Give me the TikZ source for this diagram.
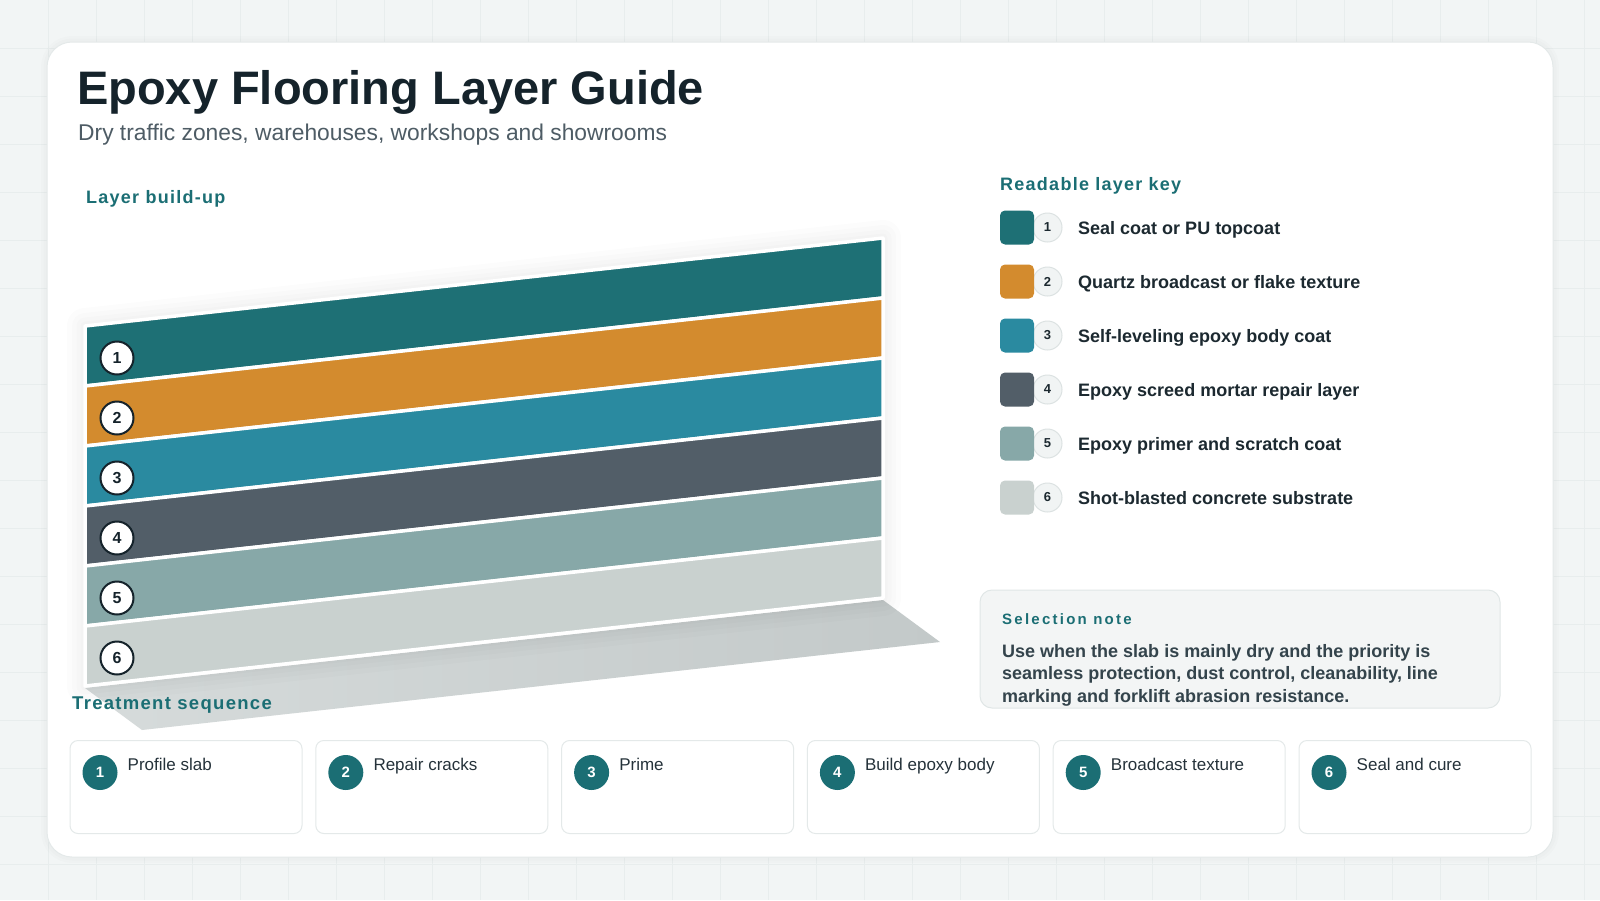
\documentclass[tikz,border=0pt]{standalone}
\usepackage{fontspec}
\setmainfont{Liberation Sans}
\newfontfamily\spacedfont[LetterSpace=7]{Liberation Sans}
\newfontfamily\notefont[LetterSpace=15]{Liberation Sans}

\definecolor{bgcol}{HTML}{F2F5F5}
\definecolor{gridcol}{HTML}{E8EDED}
\definecolor{cardline}{HTML}{E4E9E9}
\definecolor{inkdark}{HTML}{15232B}
\definecolor{subink}{HTML}{4E5C65}
\definecolor{headteal}{HTML}{1B6E74}
\definecolor{layerA}{HTML}{1E7075}
\definecolor{layerB}{HTML}{D38B2E}
\definecolor{layerC}{HTML}{2A8AA0}
\definecolor{layerD}{HTML}{525E68}
\definecolor{layerE}{HTML}{87A8A8}
\definecolor{layerF}{HTML}{C9D1CF}
\definecolor{floordark}{HTML}{C3C9C9}
\definecolor{floorlight}{HTML}{D6DBDB}
\definecolor{notefill}{HTML}{F3F5F5}
\definecolor{noteline}{HTML}{E0E6E6}
\definecolor{noteink}{HTML}{34444C}
\definecolor{keyfill}{HTML}{F1F4F4}
\definecolor{keyline}{HTML}{DCE2E2}
\definecolor{labelink}{HTML}{1C2930}
\definecolor{stepink}{HTML}{25323A}

\begin{document}
\begin{tikzpicture}[x=1pt, y=-1pt, every node/.style={inner sep=0pt},
  titletext/.style={anchor=base west, text=inkdark, font=\bfseries\fontsize{47}{56}\selectfont},
  subtext/.style={anchor=base west, text=subink, font=\fontsize{22.8}{27}\selectfont},
  heading/.style={anchor=base west, text=headteal, font=\spacedfont\bfseries\fontsize{18}{22}\selectfont},
  layernum/.style={circle, draw=inkdark, line width=2pt, fill=white, minimum size=33pt, text=inkdark, font=\bfseries\fontsize{16}{19}\selectfont},
  keynum/.style={circle, draw=keyline, line width=1pt, fill=keyfill, minimum size=29pt, text=labelink, font=\bfseries\fontsize{13}{16}\selectfont},
  swatch/.style={rectangle, rounded corners=5pt, minimum size=34pt},
  keylabel/.style={anchor=base west, text=labelink, font=\bfseries\fontsize{18}{22}\selectfont},
  stepcard/.style={rectangle, rounded corners=8pt, draw=cardline, line width=1pt, fill=white, minimum width=232pt, minimum height=93pt, anchor=north west},
  stepnum/.style={circle, fill=headteal, minimum size=35pt, text=white, font=\bfseries\fontsize{15}{18}\selectfont},
  steptext/.style={anchor=base west, text=stepink, font=\fontsize{17}{20}\selectfont}]

\useasboundingbox (0,0) rectangle (1600,900);

% page and grid
\fill[bgcol] (0,0) rectangle (1600,900);
\foreach \gx in {48,96,...,1584}
  \draw[gridcol, line width=1pt] (\gx,0) -- (\gx,900);
\foreach \gy in {48,96,...,864}
  \draw[gridcol, line width=1pt] (0,\gy) -- (1600,\gy);

% main card
\foreach \w in {12,7}
  \draw[black, opacity=0.01, line width=\w pt, rounded corners=25pt] (47,42) rectangle (1553,857);
\draw[fill=white, draw=cardline, line width=1pt, rounded corners=25pt] (47,42) rectangle (1553,857);

\node[titletext] (title) at (77,104) {Epoxy Flooring Layer Guide};
\node[subtext] (subtitle) at (78,140) {Dry traffic zones, warehouses, workshops and showrooms};

% layer build-up
\node[heading] (buildup) at (86,203) {Layer build-up};

\shade[left color=floorlight, right color=floordark] (85,688) -- (883,600) -- (940,642) -- (142,730) -- cycle;
\foreach \w in {36,26,17,9}
  \draw[black, opacity=0.01, line width=\w pt, line join=round] (85,326) -- (883,238) -- (883,598) -- (85,686) -- cycle;

\foreach \i/\col in {0/layerA,1/layerB,2/layerC,3/layerD,4/layerE,5/layerF}
  \filldraw[fill=\col, draw=white, line width=3.5pt, line join=round]
    (85,{326+60*\i}) -- (883,{238+60*\i}) -- (883,{298+60*\i}) -- (85,{386+60*\i}) -- cycle;

\foreach \n in {1,...,6}
  \node[layernum] (w\n) at (117,{358+60*(\n-1)}) {\n};

% layer key
\node[heading] (keyhead) at (1000,190) {Readable layer key};
\foreach \n/\col/\txt in {1/layerA/Seal coat or PU topcoat,
                          2/layerB/Quartz broadcast or flake texture,
                          3/layerC/Self-leveling epoxy body coat,
                          4/layerD/Epoxy screed mortar repair layer,
                          5/layerE/Epoxy primer and scratch coat,
                          6/layerF/Shot-blasted concrete substrate} {
  \node[keynum] (k\n) at (1047.5,{227.5+54*(\n-1)}) {\n};
  \node[swatch, fill=\col] (s\n) at (1017,{227.5+54*(\n-1)}) {};
  \node[keylabel] (l\n) at (1078,{234+54*(\n-1)}) {\txt};
}

% selection note
\draw[fill=notefill, draw=noteline, line width=1pt, rounded corners=12pt] (980,590) rectangle (1500,708);
\node[anchor=base west, text=headteal, font=\notefont\bfseries\fontsize{15}{18}\selectfont] (notehead) at (1002,624) {Selection note};
\node[anchor=base west, align=left, text=noteink, font=\bfseries\fontsize{18}{22.5}\selectfont] (notebody) at (1002,702)
  {Use when the slab is mainly dry and the priority is\\seamless protection, dust control, cleanability, line\\marking and forklift abrasion resistance.};

% treatment sequence
\node[heading, font=\spacedfont\bfseries\fontsize{18.5}{22}\selectfont] (seqhead) at (72,709) {Treatment sequence};
\foreach \n/\txt in {1/Profile slab,2/Repair cracks,3/Prime,4/Build epoxy body,5/Broadcast texture,6/Seal and cure} {
  \pgfmathsetmacro\cx{69.5+245.8*(\n-1)}
  \node[stepcard] (card\n) at (\cx,740) {};
  \node[stepnum] (c\n) at (\cx+30.5,772.5) {\n};
  \node[steptext] (t\n) at (\cx+58,770) {\txt};
}

\end{tikzpicture}
\end{document}
